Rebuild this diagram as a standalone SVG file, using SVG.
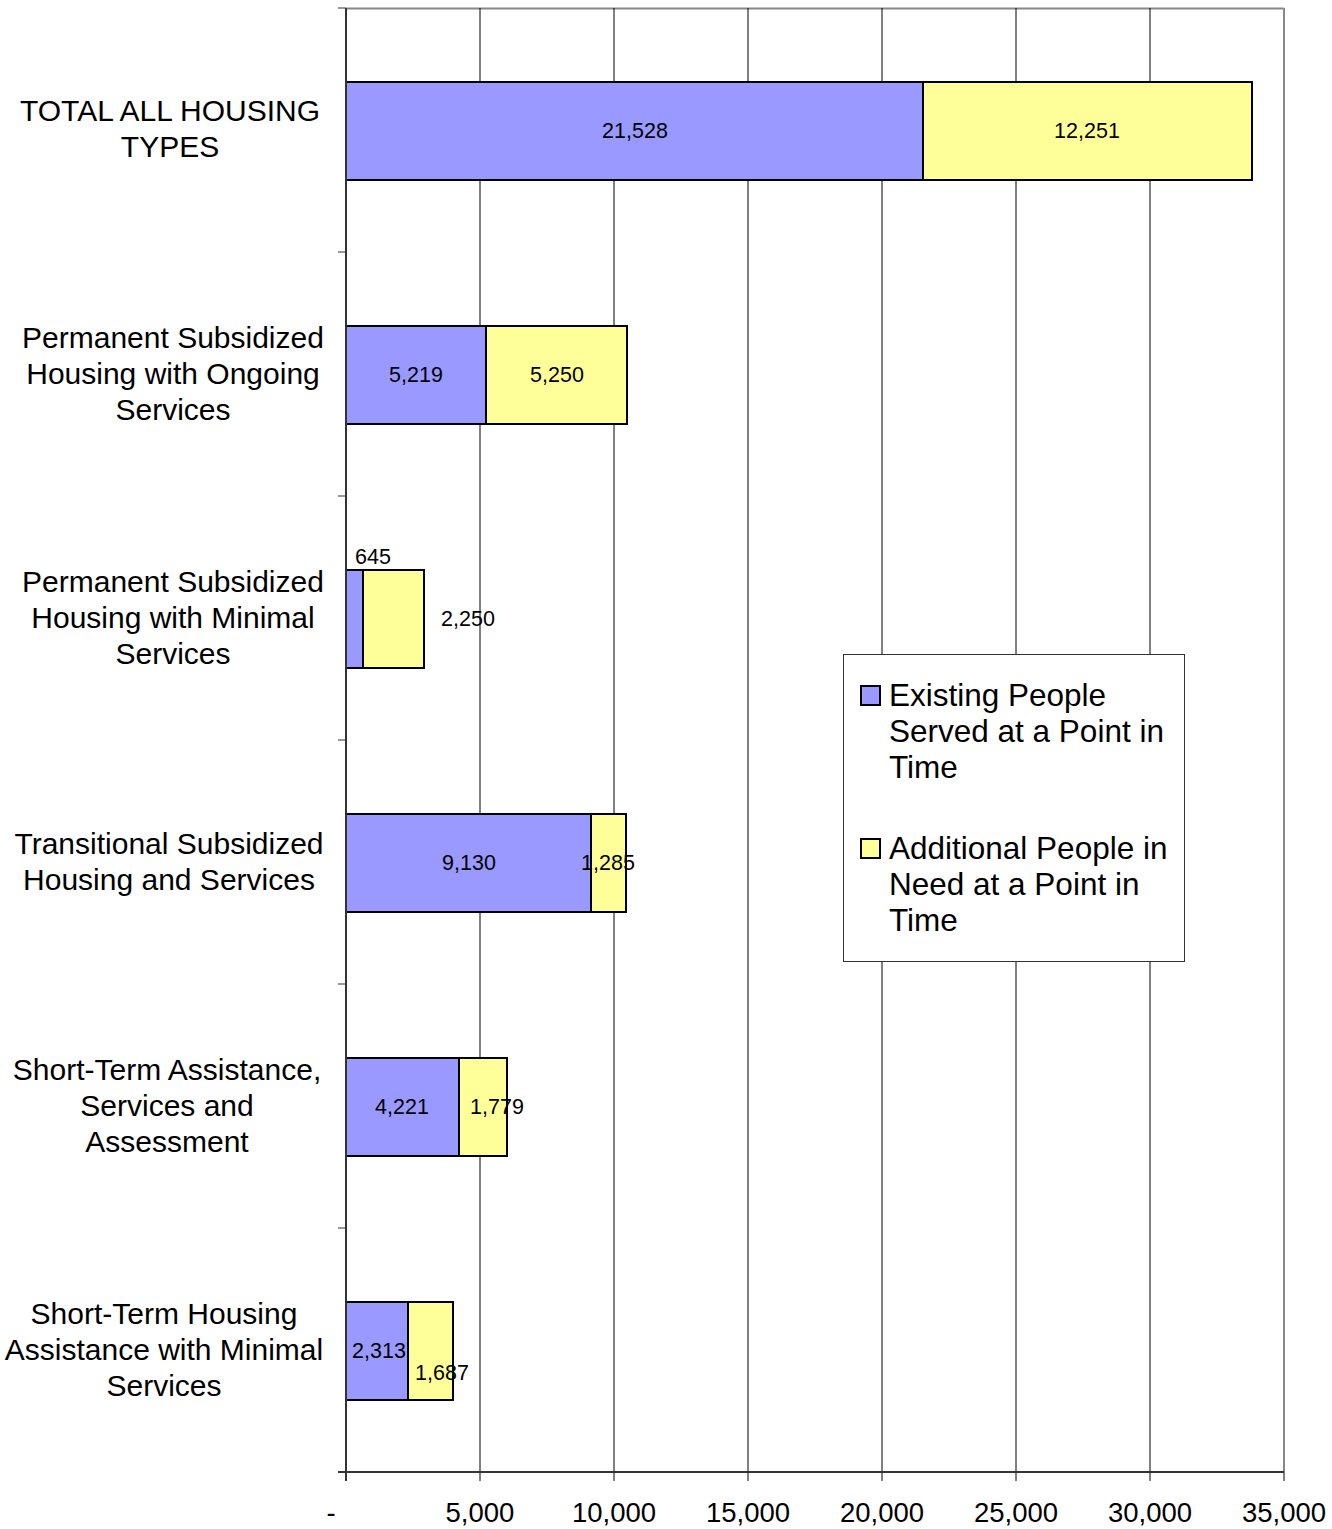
<svg xmlns="http://www.w3.org/2000/svg" width="1332" height="1529" viewBox="0 0 1332 1529">
<style>
text{font-family:"Liberation Sans",Arial,sans-serif;fill:#000}
.cat{font-size:30px;text-anchor:middle}
.val{font-size:21.5px;text-anchor:middle}
.ax{font-size:27.5px;text-anchor:middle}
.leg{font-size:31.5px}
.grid{stroke:#000;stroke-width:1}
.b1{fill:#9999FF;stroke:#000;stroke-width:2}
.b2{fill:#FFFF99;stroke:#000;stroke-width:2}
</style>
<rect width="1332" height="1529" fill="#fff"/>
<g id="plot">
<line x1="346" y1="8.5" x2="1284" y2="8.5" stroke="#888" stroke-width="2"/>
<line x1="1284" y1="8" x2="1284" y2="1472" stroke="#888" stroke-width="2"/>
<g class="grid">
<line x1="480" y1="8" x2="480" y2="1481"/>
<line x1="614" y1="8" x2="614" y2="1481"/>
<line x1="748" y1="8" x2="748" y2="1481"/>
<line x1="882" y1="8" x2="882" y2="1481"/>
<line x1="1016" y1="8" x2="1016" y2="1481"/>
<line x1="1150" y1="8" x2="1150" y2="1481"/>
<line x1="1284" y1="1472" x2="1284" y2="1481"/>
<line x1="346" y1="1472" x2="346" y2="1481"/>
</g>
<g stroke="#333" stroke-width="1">
<line x1="338" y1="8" x2="346" y2="8"/>
<line x1="338" y1="252" x2="346" y2="252"/>
<line x1="338" y1="496" x2="346" y2="496"/>
<line x1="338" y1="740" x2="346" y2="740"/>
<line x1="338" y1="984" x2="346" y2="984"/>
<line x1="338" y1="1228" x2="346" y2="1228"/>
<line x1="338" y1="1472" x2="346" y2="1472"/>
</g>
</g>
<g id="bars">
<rect class="b1" x="346" y="82" width="577" height="98"/>
<rect class="b2" x="923" y="82" width="329" height="98"/>
<rect class="b1" x="346" y="326" width="140" height="98"/>
<rect class="b2" x="486" y="326" width="141" height="98"/>
<rect class="b1" x="346" y="570" width="17" height="98"/>
<rect class="b2" x="363" y="570" width="61" height="98"/>
<rect class="b1" x="346" y="814" width="245" height="98"/>
<rect class="b2" x="591" y="814" width="35" height="98"/>
<rect class="b1" x="346" y="1058" width="113" height="98"/>
<rect class="b2" x="459" y="1058" width="48" height="98"/>
<rect class="b1" x="346" y="1302" width="62" height="98"/>
<rect class="b2" x="408" y="1302" width="45" height="98"/>
</g>
<g id="axes">
<line x1="346" y1="8" x2="346" y2="1481" stroke="#333" stroke-width="2"/>
<line x1="338" y1="1472" x2="1284" y2="1472" stroke="#333" stroke-width="2"/>
</g>
<g id="values">
<text class="val" x="635" y="138">21,528</text>
<text class="val" x="1087" y="138">12,251</text>
<text class="val" x="416" y="382">5,219</text>
<text class="val" x="557" y="382">5,250</text>
<text class="val" x="373" y="564">645</text>
<text class="val" x="468" y="626">2,250</text>
<text class="val" x="469" y="870">9,130</text>
<text class="val" x="608" y="870">1,285</text>
<text class="val" x="402" y="1114">4,221</text>
<text class="val" x="497" y="1114">1,779</text>
<text class="val" x="379" y="1358">2,313</text>
<text class="val" x="442" y="1380">1,687</text>
</g>
<g id="categories">
<text class="cat" x="170" y="121">TOTAL ALL HOUSING</text>
<text class="cat" x="170" y="157">TYPES</text>
<text class="cat" x="173" y="348">Permanent Subsidized</text>
<text class="cat" x="173" y="384">Housing with Ongoing</text>
<text class="cat" x="173" y="420">Services</text>
<text class="cat" x="173" y="592">Permanent Subsidized</text>
<text class="cat" x="173" y="628">Housing with Minimal</text>
<text class="cat" x="173" y="664">Services</text>
<text class="cat" x="169" y="854">Transitional Subsidized</text>
<text class="cat" x="169" y="890">Housing and Services</text>
<text class="cat" x="167" y="1080">Short-Term Assistance,</text>
<text class="cat" x="167" y="1116">Services and</text>
<text class="cat" x="167" y="1152">Assessment</text>
<text class="cat" x="164" y="1324">Short-Term Housing</text>
<text class="cat" x="164" y="1360">Assistance with Minimal</text>
<text class="cat" x="164" y="1396">Services</text>
</g>
<g id="xlabels">
<text class="ax" x="331" y="1522">-</text>
<text class="ax" x="480" y="1522">5,000</text>
<text class="ax" x="614" y="1522">10,000</text>
<text class="ax" x="748" y="1522">15,000</text>
<text class="ax" x="882" y="1522">20,000</text>
<text class="ax" x="1016" y="1522">25,000</text>
<text class="ax" x="1150" y="1522">30,000</text>
<text class="ax" x="1284" y="1522">35,000</text>
</g>
<g id="legend">
<rect x="843.5" y="654.5" width="341" height="307" fill="#fff" stroke="#333" stroke-width="1"/>
<rect class="b1" x="861" y="686" width="19" height="19"/>
<text class="leg" x="889" y="706">Existing People</text>
<text class="leg" x="889" y="742">Served at a Point in</text>
<text class="leg" x="889" y="778">Time</text>
<rect class="b2" x="861" y="839" width="19" height="19"/>
<text class="leg" x="889" y="859">Additional People in</text>
<text class="leg" x="889" y="895">Need at a Point in</text>
<text class="leg" x="889" y="931">Time</text>
</g>
</svg>
